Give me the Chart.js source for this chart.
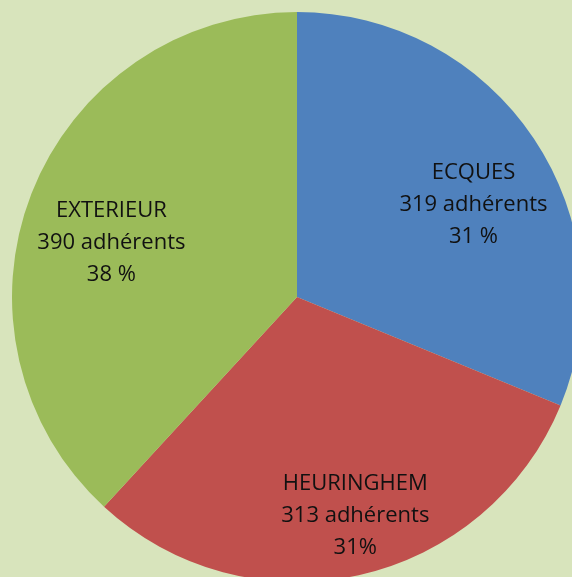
<!DOCTYPE html>
<html>
<head>
<meta charset="utf-8">
<script src="https://cdn.jsdelivr.net/npm/chart.js@4.4.0/dist/chart.umd.min.js"></script>
<style>
  html, body { margin: 0; padding: 0; background: #d8e4bc; overflow: hidden; width: 572px; height: 577px; }
  #wrap { position: absolute; left: 12px; top: 12px; width: 570px; height: 570px; }
</style>
</head>
<body>
<div id="wrap"><canvas id="myChart"></canvas></div>
<script>
// Répartition des adhérents par commune
const communes = ['ECQUES', 'HEURINGHEM', 'EXTERIEUR'];
const adherents = [319, 313, 390];
const pourcentages = ['31 %', '31%', '38 %'];
const couleurs = ['#4f81bd', '#c0504d', '#9bbb59'];

// décalage des étiquettes : angle (degrés) et fraction du rayon
const placementEtiquettes = [
    { angle: 6, r: 0.70 },
    { angle: -2.5, r: 0.79 },
    { angle: -4.6, r: 0.68 }
];

// Plugin pour écrire les étiquettes sur chaque part
const etiquettes = {
    id: 'etiquettes',
    afterDatasetsDraw(chart) {
        const ctx = chart.ctx;
        const meta = chart.getDatasetMeta(0);
        ctx.save();
        ctx.fillStyle = '#111';
        ctx.font = '22px "Open Sans", sans-serif';
        ctx.textAlign = 'center';
        ctx.textBaseline = 'middle';
        meta.data.forEach((arc, i) => {
            const p = placementEtiquettes[i];
            const mid = (arc.startAngle + arc.endAngle) / 2 + p.angle * Math.PI / 180;
            const x = arc.x + Math.cos(mid) * arc.outerRadius * p.r;
            const y = arc.y + Math.sin(mid) * arc.outerRadius * p.r;
            const lignes = [communes[i], adherents[i] + ' adhérents', pourcentages[i]];
            lignes.forEach((t, k) => ctx.fillText(t, x, y + 1 + (k - 1) * 32));
        });
        ctx.restore();
    }
};

const ctx = document.getElementById('myChart').getContext('2d');
new Chart(ctx, {
    type: 'pie',
    data: {
        labels: communes,
        datasets: [{
            data: adherents,
            backgroundColor: couleurs,
            borderWidth: 0
        }]
    },
    options: {
        responsive: true,
        maintainAspectRatio: false,
        animation: false,
        layout: { padding: 0 },
        plugins: {
            legend: { display: false },
            tooltip: { enabled: false }
        }
    },
    plugins: [etiquettes]
});
</script>
</body>
</html>
